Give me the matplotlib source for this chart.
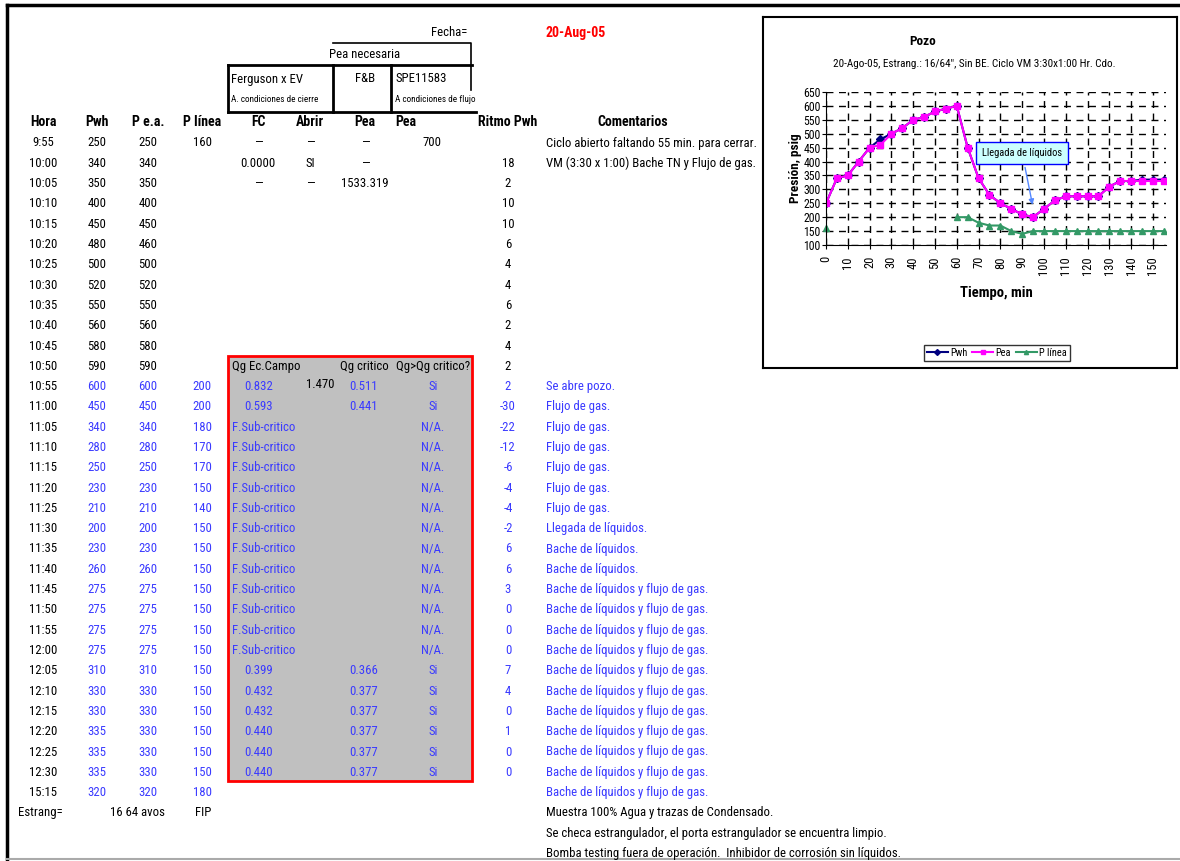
import matplotlib
matplotlib.use('Agg')
import matplotlib.pyplot as plt
from matplotlib import font_manager
from matplotlib.patches import Rectangle
from matplotlib.lines import Line2D

# --- buscar una fuente angosta ---
fonts = font_manager.fontManager.ttflist
names = {f.name for f in fonts}
narrow = None
stretch = 'normal'
for cand in ['Liberation Sans Narrow', 'Arial Narrow', 'Roboto Condensed', 'Open Sans Condensed',
             'Noto Sans Condensed', 'DejaVu Sans Condensed']:
    if cand in names:
        narrow = cand
        break
if narrow is None:
    for f in fonts:
        if f.name in ('Noto Sans', 'Roboto', 'Open Sans') and 'condensed' in str(f.stretch):
            narrow = f.name
            stretch = 'condensed'
            break

if narrow is not None:
    plt.rcParams['font.family'] = [narrow, 'DejaVu Sans']
    plt.rcParams['font.stretch'] = stretch
    fs, hfs = 9.2, 10
else:
    plt.rcParams['font.family'] = ['Liberation Sans', 'DejaVu Sans']
    fs, hfs = 8.2, 8.7

# --- datos de la hoja ---
horas = ['9:55', '10:00', '10:05', '10:10', '10:15', '10:20', '10:25', '10:30', '10:35', '10:40',
         '10:45', '10:50', '10:55', '11:00', '11:05', '11:10', '11:15', '11:20', '11:25', '11:30',
         '11:35', '11:40', '11:45', '11:50', '11:55', '12:00', '12:05', '12:10', '12:15', '12:20',
         '12:25', '12:30', '15:15']
pwh = [250, 340, 350, 400, 450, 480, 500, 520, 550, 560, 580, 590, 600, 450, 340, 280, 250,
       230, 210, 200, 230, 260, 275, 275, 275, 275, 310, 330, 330, 335, 335, 335, 320]
pea = [250, 340, 350, 400, 450, 460, 500, 520, 550, 560, 580, 590, 600, 450, 340, 280, 250,
       230, 210, 200, 230, 260, 275, 275, 275, 275, 310, 330, 330, 330, 330, 330, 320]
plinea = [160, None, None, None, None, None, None, None, None, None, None, None, 200, 200, 180,
          170, 170, 150, 140, 150, 150, 150, 150, 150, 150, 150, 150, 150, 150, 150, 150, 150, 180]
ritmo = ['', 18, 2, 10, 10, 6, 4, 4, 6, 2, 4, 2, 2, -30, -22, -12, -6, -4, -4, -2, 6, 6, 3,
         0, 0, 0, 7, 4, 0, 1, 0, 0, '']
qg_campo = ['0.832', '0.593'] + ['F.Sub-critico'] * 12 + ['0.399', '0.432', '0.432', '0.440', '0.440', '0.440']
qg_critico = ['0.511', '0.441'] + [''] * 12 + ['0.366', '0.377', '0.377', '0.377', '0.377', '0.377']
qg_mayor = ['Si', 'Si'] + ['N/A.'] * 12 + ['Si'] * 6
comentarios = ['Ciclo abierto faltando 55 min. para cerrar.',
               'VM (3:30 x 1:00) Bache TN y Flujo de gas.'] + [''] * 10 + \
              ['Se abre pozo.'] + ['Flujo de gas.'] * 6 + ['Llegada de líquidos.'] + \
              ['Bache de líquidos.'] * 2 + ['Bache de líquidos y flujo de gas.'] * 11
notas = ['Muestra 100% Agua y trazas de Condensado.',
         'Se checa estrangulador, el porta estrangulador se encuentra limpio.',
         'Bomba testing fuera de operación.  Inhibidor de corrosión sin líquidos.']
n_graf = 32  # filas 9:55 a 12:30 en la gráfica

BLUE = '#3a3aff'

fig = plt.figure(figsize=(11.8, 8.61), dpi=100)
ax = fig.add_axes([0, 0, 1, 1])
ax.set_xlim(0, 1180)
ax.set_ylim(861, 0)
ax.axis('off')

# marco de la hoja
ax.plot([7, 1180], [5, 5], color='k', lw=2.5)
ax.plot([7, 7], [5, 861], color='k', lw=2.5)
ax.plot([7, 1180], [859, 859], color='#aaaaaa', lw=1.5)

# cabecera
ax.text(467, 33, 'Fecha=', ha='right', va='center', fontsize=fs)
ax.text(546, 33, '20-Aug-05', ha='left', va='center', fontsize=hfs, color='red', fontweight='bold')
ax.plot([333, 471, 471], [43, 43, 90], color='k', lw=1.2)
ax.text(365, 55, 'Pea necesaria', ha='center', va='center', fontsize=fs)
ax.plot([228, 472], [65, 65], color='k', lw=2)
ax.plot([228, 476], [112, 112], color='k', lw=2)
for xv in [228, 333, 391]:
    ax.plot([xv, xv], [65, 112], color='k', lw=2)
ax.text(231, 79, 'Ferguson x EV', ha='left', va='center', fontsize=fs)
ax.text(231, 100, 'A. condiciones de cierre', ha='left', va='center', fontsize=fs * 0.72)
ax.text(365, 79, 'F&B', ha='center', va='center', fontsize=fs)
ax.text(395, 79, 'SPE11583', ha='left', va='center', fontsize=fs)
ax.text(395, 100, 'A condiciones de flujo', ha='left', va='center', fontsize=fs * 0.72)

headers = [('Hora', 43, 'center'), ('Pwh', 97, 'center'), ('P e.a.', 148, 'center'),
           ('P línea', 202, 'center'), ('FC', 258, 'center'), ('Abrir', 310, 'center'),
           ('Pea', 365, 'center'), ('Pea', 395, 'left'), ('Ritmo Pwh', 508, 'center'),
           ('Comentarios', 633, 'center')]
for txt, xv, ha in headers:
    ax.text(xv, 122, txt, ha=ha, va='center', fontsize=hfs, fontweight='bold')

def row_y(i):
    return 143 + i * 20.3

# recuadro gris
y0 = row_y(11) - 10
y1 = row_y(31) + 9
ax.add_patch(Rectangle((228, y0), 244, y1 - y0, facecolor='#c0c0c0', edgecolor='red', lw=2, zorder=0))
ax.text(232, row_y(11), 'Qg Ec.Campo', ha='left', va='center', fontsize=fs)
ax.text(364, row_y(11), 'Qg critico', ha='center', va='center', fontsize=fs)
ax.text(433, row_y(11), 'Qg>Qg critico?', ha='center', va='center', fontsize=fs)
ax.text(320, row_y(12) - 2, '1.470', ha='center', va='center', fontsize=fs)

for i, h in enumerate(horas):
    y = row_y(i)
    col = BLUE if i >= 12 else 'k'
    ax.text(43, y, h, ha='center', va='center', fontsize=fs)
    ax.text(97, y, str(pwh[i]), ha='center', va='center', fontsize=fs, color=col)
    ax.text(148, y, str(pea[i]), ha='center', va='center', fontsize=fs, color=col)
    if plinea[i] is not None:
        ax.text(202, y, str(plinea[i]), ha='center', va='center', fontsize=fs, color=col)
    ax.text(508, y, str(ritmo[i]), ha='center', va='center', fontsize=fs, color=col)
    if comentarios[i]:
        ax.text(546, y, comentarios[i], ha='left', va='center', fontsize=fs, color=col)
    j = i - 12
    if 0 <= j < len(qg_campo):
        if qg_campo[j].startswith('F.'):
            ax.text(232, y, qg_campo[j], ha='left', va='center', fontsize=fs, color=BLUE)
        else:
            ax.text(259, y, qg_campo[j], ha='center', va='center', fontsize=fs, color=BLUE)
        ax.text(364, y, qg_critico[j], ha='center', va='center', fontsize=fs, color=BLUE)
        ax.text(433, y, qg_mayor[j], ha='center', va='center', fontsize=fs, color=BLUE)

# primeras filas FC / Abrir / Pea
ax.text(258, row_y(0), '—', ha='center', va='center', fontsize=fs)
ax.text(310, row_y(0), '—', ha='center', va='center', fontsize=fs)
ax.text(365, row_y(0), '—', ha='center', va='center', fontsize=fs)
ax.text(432, row_y(0), '700', ha='center', va='center', fontsize=fs)
ax.text(258, row_y(1), '0.0000', ha='center', va='center', fontsize=fs)
ax.text(310, row_y(1), 'SI', ha='center', va='center', fontsize=fs)
ax.text(365, row_y(1), '—', ha='center', va='center', fontsize=fs)
ax.text(258, row_y(2), '—', ha='center', va='center', fontsize=fs)
ax.text(310, row_y(2), '—', ha='center', va='center', fontsize=fs)
ax.text(365, row_y(2), '1533.319', ha='center', va='center', fontsize=fs)

ax.text(18, row_y(33), 'Estrang=', ha='left', va='center', fontsize=fs)
ax.text(137, row_y(33), '16 64 avos', ha='center', va='center', fontsize=fs)
ax.text(203, row_y(33), 'FIP', ha='center', va='center', fontsize=fs)
for k, nota in enumerate(notas):
    ax.text(546, row_y(33 + k), nota, ha='left', va='center', fontsize=fs)

# --- gráfica incrustada ---
W, H = 1180, 861
frame = fig.add_axes([763 / W, 1 - 368 / H, (1177 - 763) / W, (368 - 17) / H])
frame.set_xticks([])
frame.set_yticks([])
frame.set_facecolor('white')
for s in frame.spines.values():
    s.set_linewidth(1.5)

def hm(h):
    hh, mm = h.split(':')
    return int(hh) * 60 + int(mm)

t = [hm(h) - hm(horas[0]) for h in horas[:n_graf]]
pl_t = [t[i] for i in range(n_graf) if plinea[i] is not None]
pl_v = [plinea[i] for i in range(n_graf) if plinea[i] is not None]

ch = fig.add_axes([826 / W, 1 - 245 / H, (1166 - 826) / W, (245 - 92) / H])
ch.plot(t, pwh[:n_graf], color='#000080', marker='D', ms=4, lw=1.5, label='Pwh')
ch.plot(t, pea[:n_graf], color='#ff00ff', marker='s', ms=4.5, lw=1.5, label='Pea')
ch.plot(pl_t[:1], pl_v[:1], color='#339966', marker='^', ms=4.5, lw=0, clip_on=False)
ch.plot(pl_t[1:], pl_v[1:], color='#339966', marker='^', ms=4.5, lw=1.5, label='P línea')
ch.set_xlim(0, 156)
ch.set_ylim(100, 650)
ch.set_xticks(range(0, 151, 10))
ch.set_yticks(range(100, 651, 50))
ch.tick_params(axis='x', labelrotation=90, labelsize=9, length=3, pad=5)
ch.tick_params(axis='y', labelsize=8.5, length=3, pad=1)
ch.grid(True, color='k', ls=(0, (5, 4)), lw=1)
for s in ['top', 'right']:
    ch.spines[s].set_visible(False)
ch.set_xlabel('Tiempo, min', fontsize=10.5, fontweight='bold', labelpad=8)
ch.set_ylabel('Presión, psig', fontsize=9.5, fontweight='bold', labelpad=1)
ch.annotate('Llegada de líquidos', xy=(95, 235), xytext=(90, 431), fontsize=7.5,
            ha='center', va='center',
            bbox=dict(boxstyle='square,pad=0.6', fc='#ccffff', ec='blue', lw=1),
            arrowprops=dict(arrowstyle='-|>', color='#5588ff', lw=1))
frame.text(0.385, 0.93, 'Pozo', transform=frame.transAxes, ha='center', va='center',
           fontsize=9.5, fontweight='bold')
frame.text(0.51, 0.865, '20-Ago-05, Estrang.: 16/64", Sin BE. Ciclo VM 3:30x1:00 Hr. Cdo.',
           transform=frame.transAxes, ha='center', va='center', fontsize=8)
frame.legend(handles=[Line2D([], [], color='#000080', marker='D', ms=3, lw=1.5),
                      Line2D([], [], color='#ff00ff', marker='s', ms=3, lw=1.5),
                      Line2D([], [], color='#339966', marker='^', ms=3, lw=1.5)],
             labels=['Pwh', 'Pea', 'P línea'], loc='center', bbox_to_anchor=(0.565, 0.043),
             ncol=3, fontsize=7.5, handlelength=2, columnspacing=0.5, handletextpad=0.2,
             frameon=True, fancybox=False, edgecolor='k', borderpad=0.3)

fig.savefig('out.png', dpi=100)
